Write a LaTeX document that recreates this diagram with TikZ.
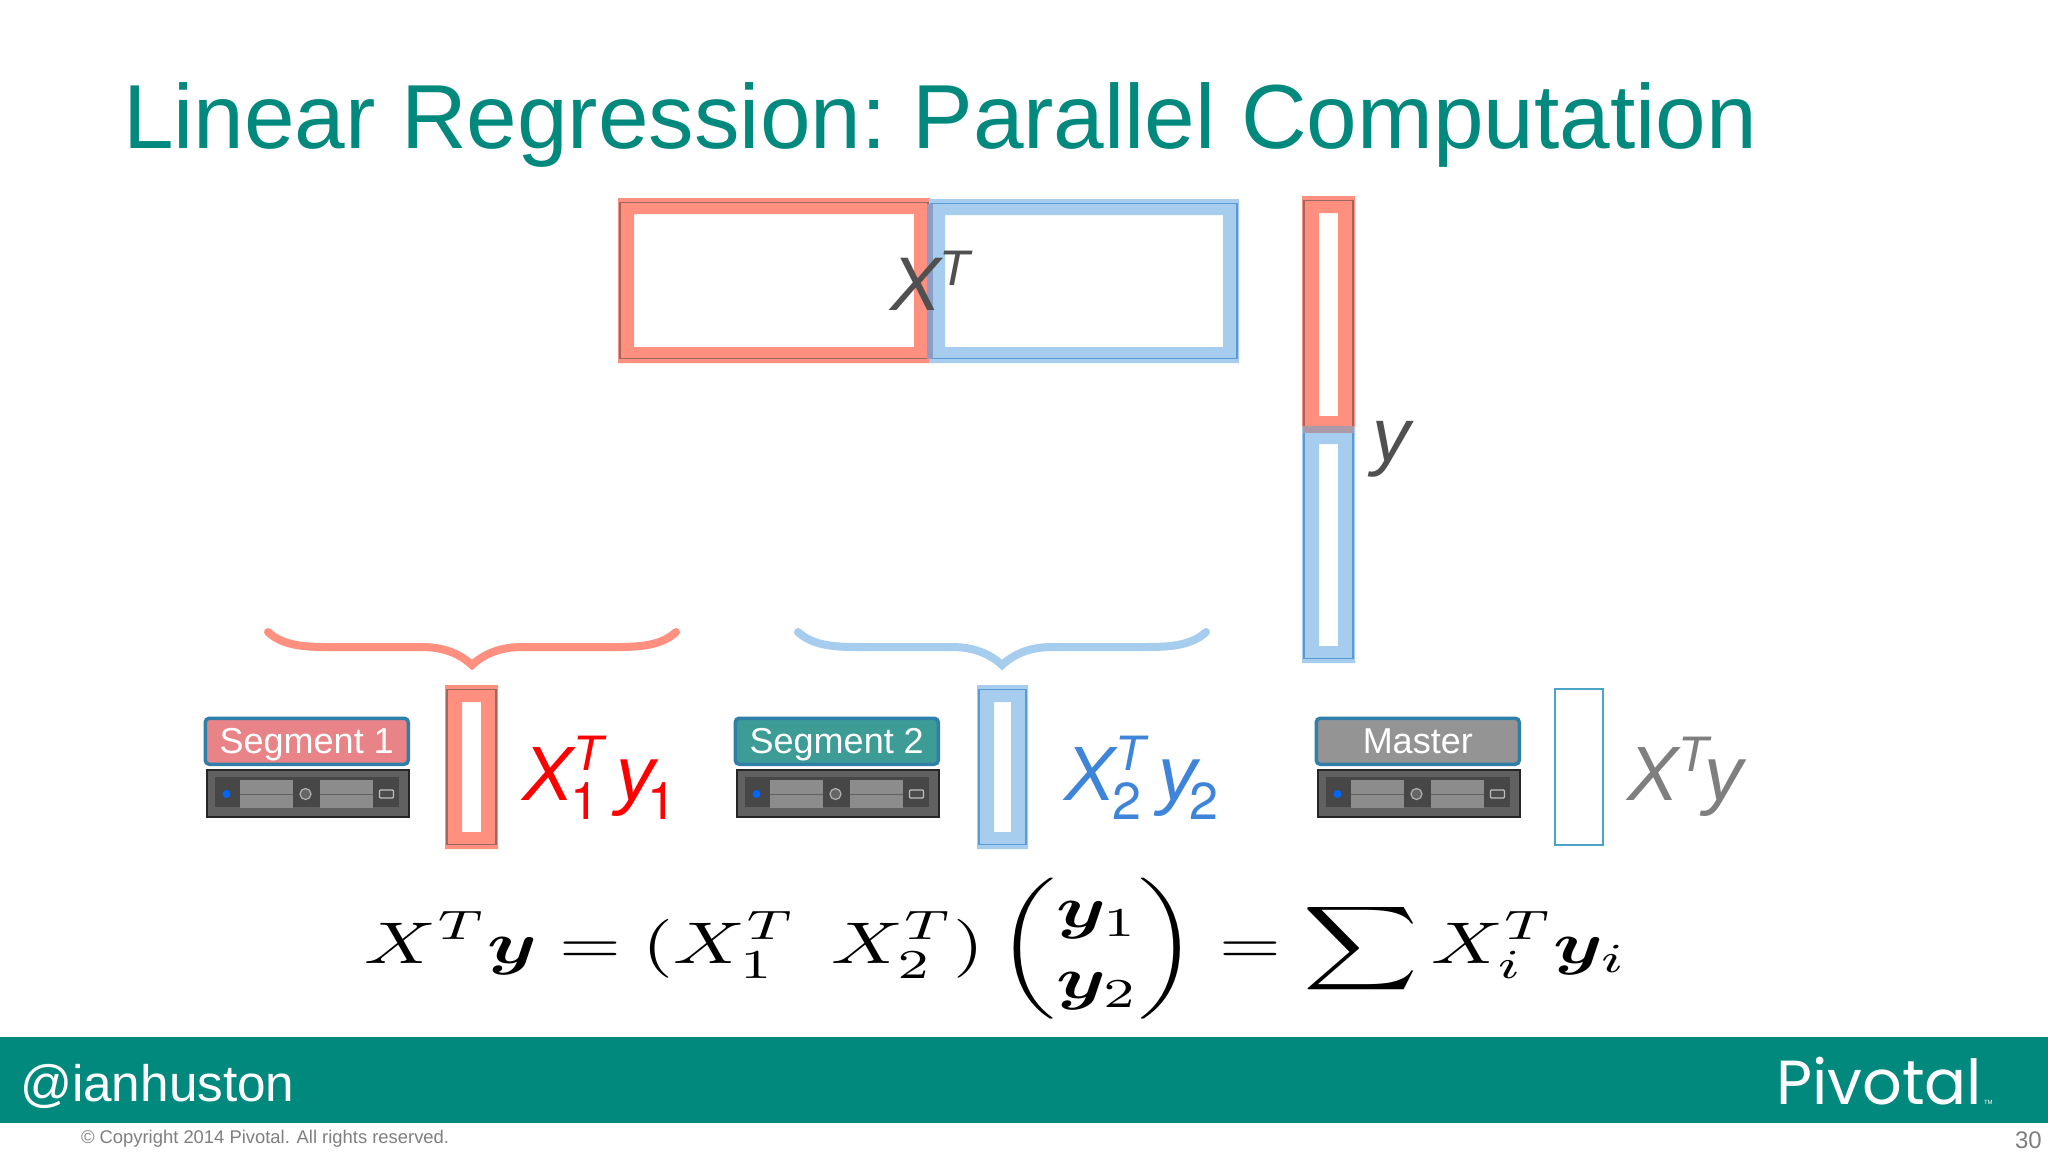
\documentclass[tikz,border=0pt]{standalone}
\usepackage{fontspec}
\usepackage{amsmath,bm,graphicx}
\setmainfont{Liberation Sans}
\newfontfamily\logofont{Poppins}
\newfontfamily\heros{TeX Gyre Heros}
\definecolor{teal}{HTML}{00897C}
\definecolor{ringred}{HTML}{FF9080}
\definecolor{ringblue}{HTML}{A6CCEE}
\definecolor{edgered}{HTML}{A06660}
\definecolor{edgeblue}{HTML}{5B9BD5}
\definecolor{overlapy}{HTML}{AC9AA8}
\definecolor{overlapx}{HTML}{8C9CC4}
\definecolor{segred}{HTML}{E88488}
\definecolor{segteal}{HTML}{3D9C96}
\definecolor{seggray}{HTML}{959495}
\definecolor{segedge}{HTML}{2F7FA8}
\definecolor{gtext}{HTML}{7F7F7F}
\definecolor{dtext}{HTML}{505050}
\definecolor{sred}{HTML}{FF0000}
\definecolor{sblue}{HTML}{3E85DA}
\definecolor{masteredge}{HTML}{4BA3C7}
\newcommand{\fsz}[1]{\fontsize{#1}{#1}\selectfont}
% ring: name, fill, edge, x1,y1,x2,y2, band
\newcommand{\ringbox}[8]{%
  \path[fill=#2,even odd rule] (#4,#5) rectangle (#6,#7)
     ({#4+#8},{#5+#8}) rectangle ({#6-#8},{#7-#8});
  \node[draw=#3,line width=1.6pt,inner sep=0pt,minimum width={#6-#4-4},minimum height={#7-#5-9},anchor=center] (#1) at ({(#4+#6)/2},{(#5+#7)/2}) {};
}
% server: name, x1, y1 (width 203, height 49)
\newcommand{\serverbox}[3]{%
  \begin{scope}[shift={(#2,#3)}]
    \node[draw=black!85,line width=2pt,fill=black!62,inner sep=0pt,minimum width=202pt,minimum height=47pt,anchor=north west] (#1) at (0,0) {};
    \fill[black!72] (9,8) rectangle (193,38);
    \fill[black!45] (34,11) rectangle (87,39);
    \fill[black!45] (114,11) rectangle (167,39);
    \draw[black!62,line width=0.8pt] (34,25) -- (87,25) (114,25) -- (167,25);
    \fill[blue!60!cyan] (21,25) circle (4);
    \draw[black!30,fill=black!60,line width=1.2pt] (100,25) circle (5.5);
    \draw[black!25,fill=black!70,line width=1.2pt,rounded corners=1pt] (174,21) rectangle (188,29);
  \end{scope}
}
\newcommand{\curly}[3]{%
  \draw[#2,line width=8pt,line cap=round] ({#1-204},632)
    .. controls ({#1-190},645) and ({#1-170},647) .. ({#1-145},647)
    -- ({#1-50},647) .. controls ({#1-28},647) and ({#1-12},654) .. ({#1},#3)
    .. controls ({#1+12},654) and ({#1+28},647) .. ({#1+50},647)
    -- ({#1+145},647) .. controls ({#1+170},647) and ({#1+190},645) .. ({#1+204},632);
}
\newcommand{\XTsub}[1]{{\itshape X}\rlap{\raisebox{30pt}{\fsz{50}\itshape T}}\kern-3pt\raisebox{-19pt}{\fsz{52}\heros #1}}
\newcommand{\ysub}[1]{{\itshape y}\kern-7pt\raisebox{-19pt}{\fsz{52}\heros #1}}
\tikzset{
  lbl/.style={anchor=base west,inner sep=0pt,outer sep=0pt},
  seglabel/.style={rounded corners=4pt,draw=segedge,line width=3.5pt,minimum width=203pt,minimum height=46pt,inner sep=0pt,text=white,font=\fsz{36},text height=30pt,text depth=5pt},
}
\begin{document}
\begin{tikzpicture}[x=1pt,y=-1pt]
\useasboundingbox (0,0) rectangle (2048,1152);
\fill[white] (0,0) rectangle (2048,1152);

\node[lbl,text=teal,font=\fsz{91}] (title) at (123,148) {Linear Regression:\kern-8pt{} Parallel Computation};

% top matrix
\ringbox{rx}{ringred}{edgered}{618}{198}{930}{363}{16}
\ringbox{bx}{ringblue}{edgeblue}{929}{199}{1239}{363}{16}
\fill[overlapx] (927,204) rectangle (933,359);
\node[lbl,text=dtext,font=\fsz{76}\itshape] (xt) at (890,310) {X};
\node[lbl,text=dtext,font=\fsz{50}\itshape] (xtt) at (939,285) {T};

% y vector
\ringbox{ry}{ringred}{edgered}{1302}{196}{1355}{433}{17}
\ringbox{by}{ringblue}{edgeblue}{1302}{427}{1355}{663}{17}
\fill[overlapy] (1303,426) rectangle (1354,433);
\node[lbl,text=dtext,font=\fsz{76}\itshape] (ylab) at (1372,461) {y};

% braces
\curly{472}{ringred}{665}
\curly{1002}{ringblue}{665}

% segment 1
\node[seglabel,fill=segred,anchor=north west] (s1) at (203.5,716.5) {Segment 1};
\serverbox{srv1}{205.5}{769}
\ringbox{v1}{ringred}{edgered}{445}{685}{498}{849}{17}
\node[lbl,text=sred,font=\fsz{77}] (l1) at (522,800) {\XTsub{1}\hspace{17pt}\ysub{1}};

% segment 2
\node[seglabel,fill=segteal,anchor=north west] (s2) at (733.5,716.5) {Segment 2};
\serverbox{srv2}{735.5}{769}
\ringbox{v2}{ringblue}{edgeblue}{977}{685}{1028}{849}{17}
\node[lbl,text=sblue,font=\fsz{77}] (l2) at (1064,800) {\XTsub{2}\hspace{17pt}\ysub{2}};

% master
\node[seglabel,fill=seggray,anchor=north west] (m) at (1314.5,716.5) {Master};
\serverbox{srvm}{1316.5}{769}
\node[draw=masteredge,line width=2pt,inner sep=0pt,minimum width=48pt,minimum height=156pt,anchor=north west] (vm) at (1554,688) {};
\node[lbl,text=gtext,font=\fsz{77}\itshape] (lm) at (1627,800) {X\raisebox{29pt}{\fsz{50}T}\kern-4pt y};

% equation
\node[anchor=center,inner sep=0pt] (eq) at (996,949) {\resizebox*{1262pt}{141pt}{$\displaystyle X^T\bm{y} = (X_1^T\;\, X_2^T)\begin{pmatrix}\bm{y}_1\\ \bm{y}_2\end{pmatrix} = \sum X_i^T\bm{y}_i$}};

% footer
\fill[teal] (0,1037) rectangle (2048,1123);
\node[lbl,text=white,font=\fsz{51.3}] (handle) at (20,1101) {@ianhuston};
\node[anchor=west,inner sep=0pt,text=white] (logo) at (1776,1081) {\resizebox{206pt}{!}{\logofont Pivotal}};
\node[lbl,text=white,font=\fsz{6}] (tm) at (1984,1104) {TM};
\node[lbl,text=gtext,font=\fsz{18.4}] (copy) at (81,1143) {© Copyright 2014 Pivotal. All rights reserved.};
\node[anchor=base east,inner sep=0pt,text=gtext,font=\fsz{24}] (page) at (2042,1148) {30};
\end{tikzpicture}
\end{document}
